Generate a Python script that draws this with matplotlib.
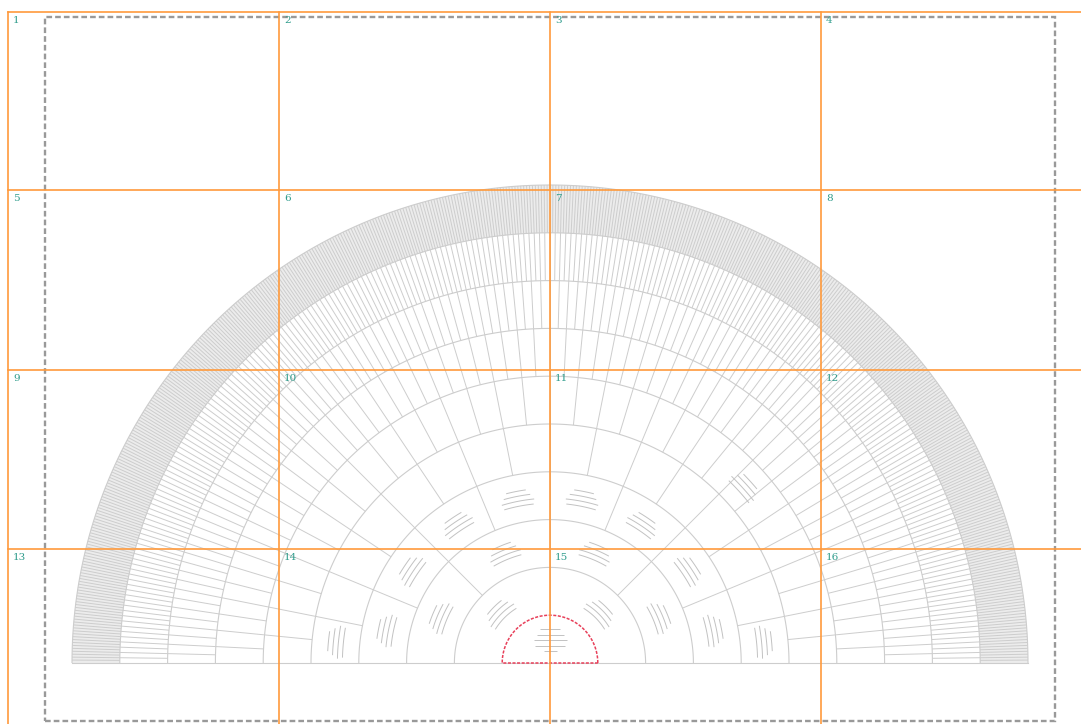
"""Fan chart template (10 generations) on a 4x4 print grid."""

import numpy as np
import matplotlib
matplotlib.use("Agg")
import matplotlib.pyplot as plt
from matplotlib.collections import LineCollection
from matplotlib.patches import Rectangle, Wedge

W, H = 1081, 724

# chart data
generations = [1, 2, 3, 4, 5, 6, 7, 8, 9, 10]
segments_per_ring = [2 ** (g - 1) for g in generations]
ring_width = 47.8
center_px = (550, 663)

# segments that hold a (placeholder) name, per generation index
named_segments = {
    0: [0],
    1: [0, 1],
    2: [0, 1, 2, 3],
    3: [0, 1, 2, 3, 4, 5, 6, 7],
    4: [0, 15],
    5: [7],
}
name_line_lengths = [20, 27, 33, 30, 13]

# print grid (page tiles)
grid_x = [8, 279, 550, 821]
grid_y = [12, 190, 370, 549]
tile_labels = [str(i) for i in range(1, 17)]

# page frame
frame_px = (45, 17, 1055, 721)

SEG_COLOR = "#cdcdcd"
TEXT_COLOR = "#c2c2c2"
ORANGE = "#ff9a3c"
TEAL = "#2f9c8c"


def py(y):
    return H - y


cx, cy = center_px[0], py(center_px[1])


def arc(r, a0, a1, n=200):
    t = np.radians(np.linspace(a0, a1, n))
    return np.column_stack([cx + r * np.cos(t), cy + r * np.sin(t)])


fig = plt.figure(figsize=(W / 100, H / 100), dpi=100)
ax = fig.add_axes([0, 0, 1, 1])
ax.set_xlim(0, W)
ax.set_ylim(0, H)
ax.set_aspect("equal")
ax.axis("off")

r_max = len(generations) * ring_width

# the outermost generation reads as a grey band
ax.add_patch(Wedge((cx, cy), r_max, 0, 180, width=ring_width,
                   fc="#ececec", ec="none"))

# ring arcs and radial dividers
arcs, spokes = [], []
for i, n in enumerate(segments_per_ring):
    r_in, r_out = i * ring_width, (i + 1) * ring_width
    if i > 0:
        arcs.append(arc(r_out, 0, 180))
    for j in range(1, n):
        t = np.radians(j * 180 / n)
        spokes.append([(cx + r_in * np.cos(t), cy + r_in * np.sin(t)),
                       (cx + r_out * np.cos(t), cy + r_out * np.sin(t))])
ax.add_collection(LineCollection(arcs, colors=SEG_COLOR, linewidths=0.8))
ax.add_collection(LineCollection(spokes, colors=SEG_COLOR, linewidths=0.7))

ax.plot([cx - r_max, cx + r_max], [cy, cy], color=SEG_COLOR, lw=0.8)

# placeholder name lines
name_lines = []
for i, segs in named_segments.items():
    n = segments_per_ring[i]
    if i == 0:
        for k, L in enumerate(name_line_lengths):
            y = cy + 34 - k * 5.5
            name_lines.append([(cx - L / 2, y), (cx + L / 2, y)])
        continue
    r_mid = (i + 0.5) * ring_width
    for s in segs:
        a_mid = (s + 0.5) * 180 / n
        for k, L in enumerate(name_line_lengths[:4]):
            r = r_mid + 7.5 - k * 5
            half = np.degrees(L / 2 / r)
            name_lines.append(arc(r, a_mid - half, a_mid + half, 20))
ax.add_collection(LineCollection(name_lines, colors=TEXT_COLOR, linewidths=0.7))

# root person outline
root = np.vstack([arc(ring_width, 0, 180), [[cx + ring_width, cy]]])
ax.plot(root[:, 0], root[:, 1], color="#e8405a", lw=1.1,
        linestyle=(0, (2, 1)))

# page frame
x0, y0, x1, y1 = frame_px
ax.add_patch(Rectangle((x0, py(y1)), x1 - x0, y1 - y0, fill=False,
                       ec="#999999", lw=1.7, linestyle=(0, (2.4, 1.3))))

# print grid
for x in grid_x:
    ax.plot([x, x], [py(grid_y[0]), 0], color=ORANGE, lw=1.2)
for y in grid_y:
    ax.plot([grid_x[0], W], [py(y), py(y)], color=ORANGE, lw=1.2)
for idx, label in enumerate(tile_labels):
    r, c = divmod(idx, 4)
    ax.text(grid_x[c] + 5, py(grid_y[r] + 4), label, color=TEAL,
            fontsize=7.5, family="DejaVu Serif", ha="left", va="top")

fig.savefig("out.png", dpi=100)
